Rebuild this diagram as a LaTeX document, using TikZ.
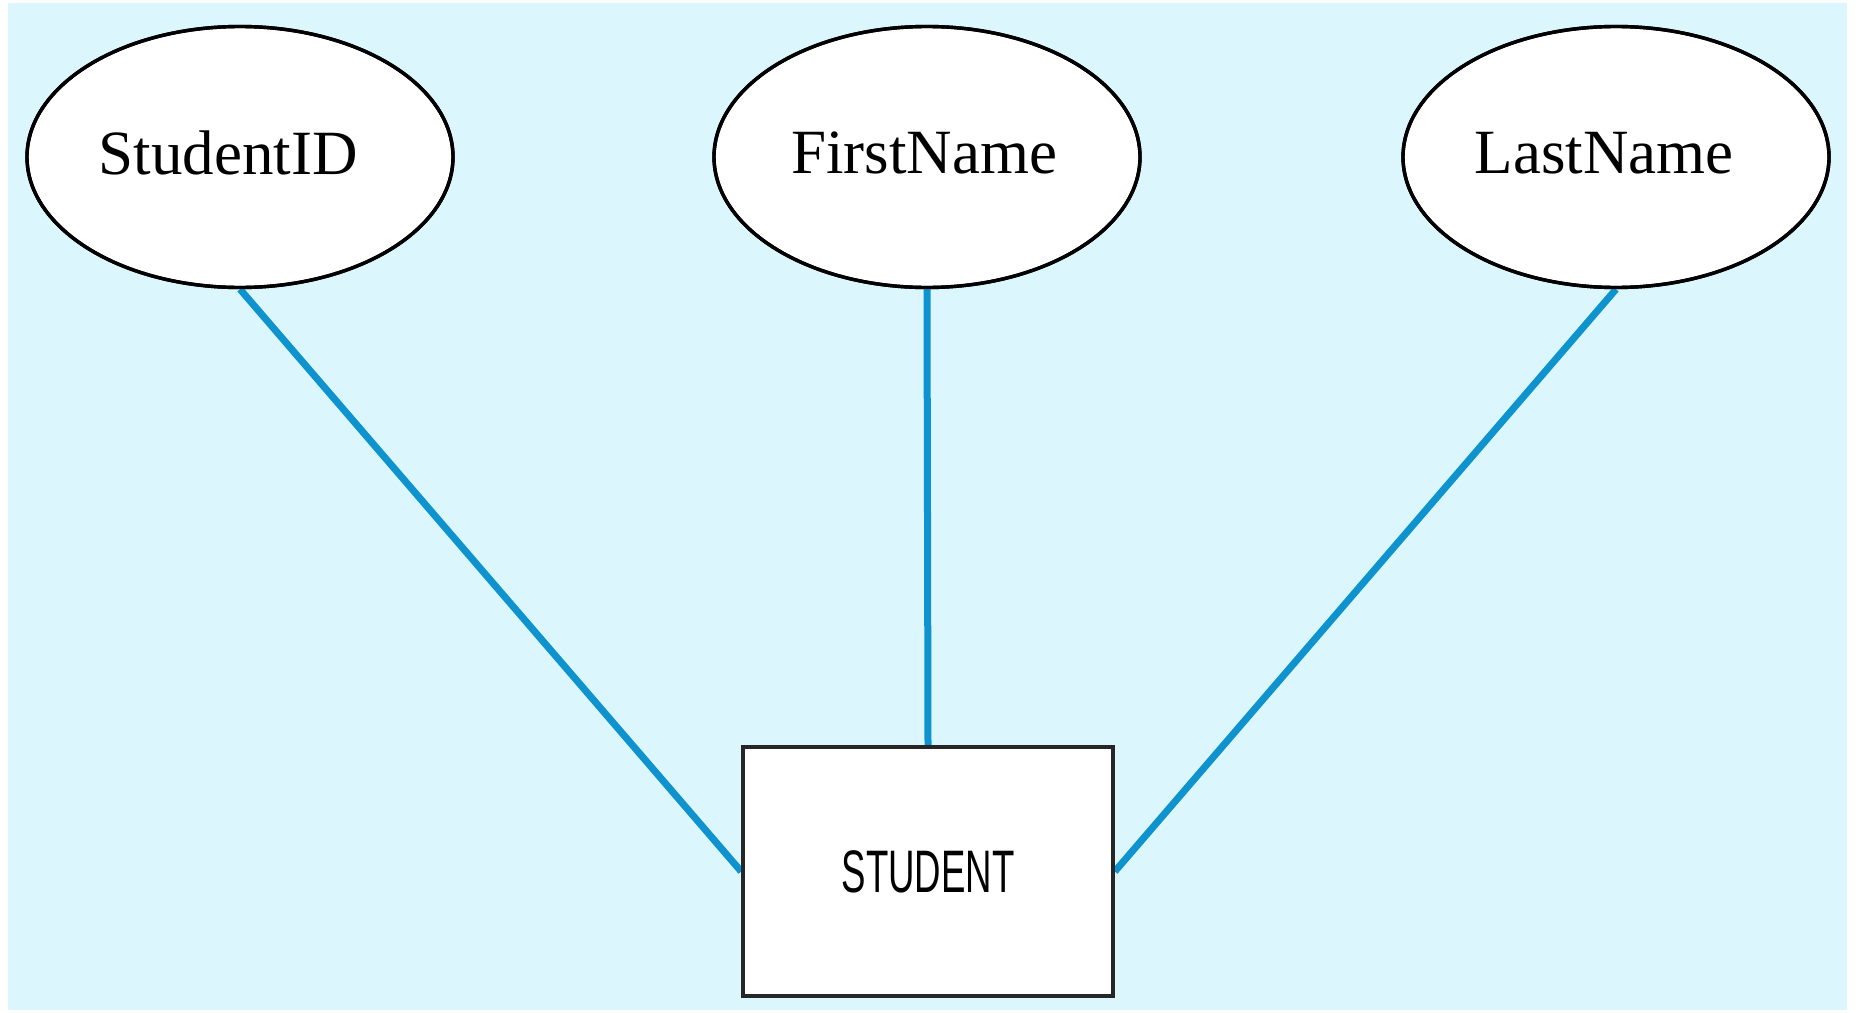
\documentclass[tikz,border=0pt]{standalone}
\usepackage{fontspec}
\setmainfont{Liberation Serif}
\newfontfamily\entityfont{Liberation Sans}
\usetikzlibrary{shapes.geometric}
\definecolor{panel}{HTML}{DBF6FD}
\definecolor{linkblue}{HTML}{0E93CE}
\tikzset{
  attr/.style={ellipse, draw=black, line width=3.4pt, fill=white,
    minimum width=426pt, minimum height=261pt, inner sep=0pt,
    font=\fontsize{63}{70}\selectfont},
  entity/.style={rectangle, draw=black!85, line width=3.6pt, fill=white,
    minimum width=370pt, minimum height=249pt, inner sep=0pt},
  link/.style={draw=linkblue, line width=7pt}
}
\begin{document}
\begin{tikzpicture}[x=1pt,y=-1pt]
  \useasboundingbox (0,0) rectangle (1858,1012);
  % light panel behind the diagram
  \fill[panel] (8,3) rectangle (1847,1010);

  % entity
  \node[entity] (stu) at (928,871.5)
    {\entityfont\fontsize{60}{66}\selectfont\scalebox{0.61}[1]{STUDENT}};

  % attributes
  \node[attr] (sid) at (240,157) {\raisebox{8pt}{\hspace*{-24pt}StudentID}};
  \node[attr] (fn)  at (927,157) {\raisebox{8pt}{\hspace*{-6pt}FirstName}};
  \node[attr] (ln)  at (1616,157) {\raisebox{8pt}{\hspace*{-24pt}LastName}};

  % relationships
  \draw[link] (sid.south) -- (stu.west);
  \draw[link] (fn.south) -- (stu.north);
  \draw[link] (ln.south) -- (stu.east);

  % redraw outlines on top of line ends
  \node[attr, fill=none] at (sid) {\phantom{S}};
  \node[attr, fill=none] at (fn) {\phantom{S}};
  \node[attr, fill=none] at (ln) {\phantom{S}};
  \node[entity, fill=none] at (stu) {};
\end{tikzpicture}
\end{document}
